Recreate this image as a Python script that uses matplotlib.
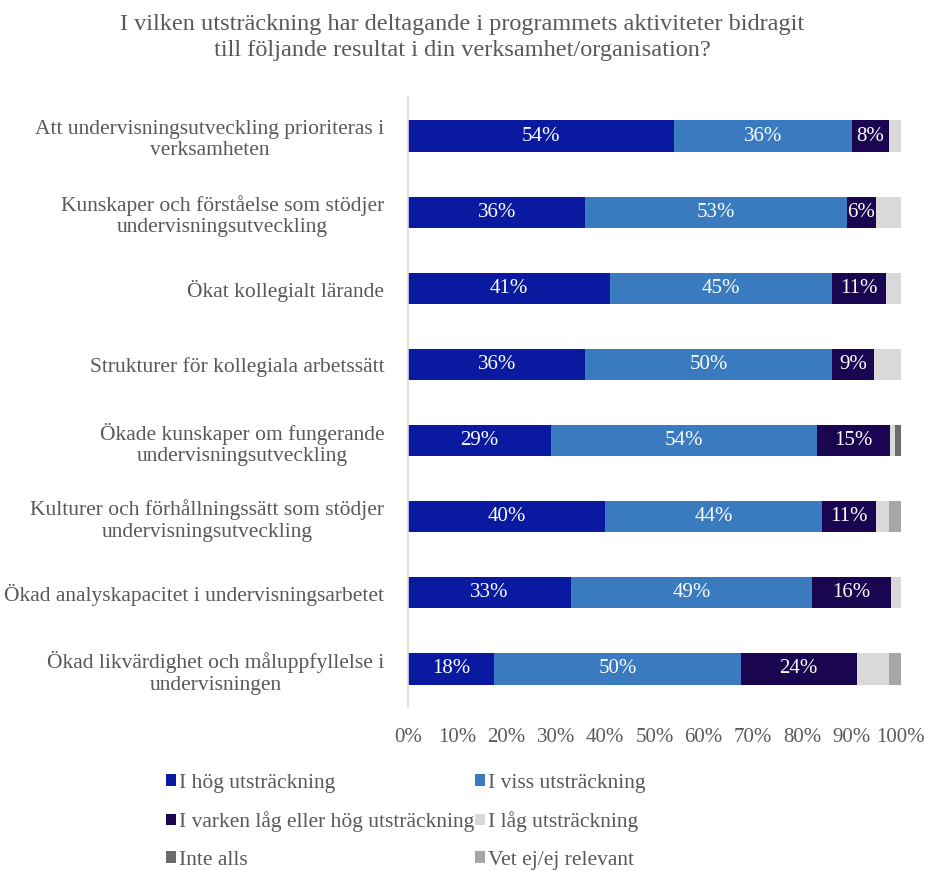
import matplotlib.pyplot as plt
import matplotlib.ticker as ticker
import numpy as np

# ── data ─────────────────────────────────────────────────────────────
kategorier = [
    'Att undervisningsutveckling prioriteras i\nverksamheten',
    'Kunskaper och förståelse som stödjer\nundervisningsutveckling',
    'Ökat kollegialt lärande',
    'Strukturer för kollegiala arbetssätt',
    'Ökade kunskaper om fungerande\nundervisningsutveckling',
    'Kulturer och förhållningssätt som stödjer\nundervisningsutveckling',
    'Ökad analyskapacitet i undervisningsarbetet',
    'Ökad likvärdighet och måluppfyllelse i\nundervisningen',
]
serier = ['I hög utsträckning', 'I viss utsträckning',
          'I varken låg eller hög utsträckning', 'I låg utsträckning',
          'Inte alls', 'Vet ej/ej relevant']

hog = [54, 36, 41, 36, 29, 40, 33, 17.5]
viss = [36, 53, 45, 50, 54, 44, 49, 50]
varken = [7.6, 6, 11, 8.6, 14.8, 11, 16, 23.5]
lag = [2.4, 5, 3, 5.4, 1.0, 2.5, 2, 6.5]
inte = [0, 0, 0, 0, 1.2, 0, 0, 0]
vetej = [0, 0, 0, 0, 0, 2.5, 0, 2.5]

farger = ['#0A1AA0', '#3A7BC0', '#1A0550', '#D9D9D9', '#6B6B6B', '#A6A6A6']
textfarg = '#595959'

plt.rcParams['font.family'] = ['Liberation Serif', 'DejaVu Serif']

fig = plt.figure(figsize=(9.25, 8.71), dpi=100)
ax = fig.add_axes([0.441, 0.1883, 0.533, 0.6992])

y = np.arange(len(kategorier))
vanster = np.zeros(len(kategorier))
handtag = []
for i, (namn, vals) in enumerate(zip(serier, [hog, viss, varken, lag, inte, vetej])):
    vals = np.array(vals, dtype=float)
    b = ax.barh(y, vals, left=vanster, height=0.41, color=farger[i],
                edgecolor='none', label=namn)
    handtag.append(b)
    if i < 3:
        for yy, v, l in zip(y, vals, vanster):
            if v > 0:
                ax.text(l + v / 2, yy, f'{v:.0f}%', ha='center', va='center',
                        color='white', fontsize=15)
    vanster += vals

ax.set_ylim(len(kategorier) - 0.5, -0.5)
ax.set_xlim(0, 100)
ax.set_yticks(y)
ax.set_yticklabels(kategorier, fontsize=15.5, color=textfarg, multialignment='center')
ax.xaxis.set_major_locator(ticker.MultipleLocator(10))
ax.xaxis.set_major_formatter(ticker.FuncFormatter(lambda v, p: f'{v:.0f}%'))
ax.tick_params(axis='x', length=0, labelsize=15, labelcolor=textfarg, pad=15)
ax.tick_params(axis='y', length=0, pad=17)
for s in ['top', 'right', 'bottom']:
    ax.spines[s].set_visible(False)
ax.spines['left'].set_color('#D9D9D9')
ax.spines['left'].set_linewidth(1.2)

fig.suptitle('I vilken utsträckning har deltagande i programmets aktiviteter bidragit\n'
             'till följande resultat i din verksamhet/organisation?',
             fontsize=17.5, color=textfarg, y=0.984, linespacing=1.3)

# legend: rader = (hög, viss), (varken, låg), (inte, vet ej)
ordning = [0, 2, 4, 1, 3, 5]
leg = fig.legend([handtag[k] for k in ordning], [serier[k] for k in ordning],
                 ncol=2, loc='upper left', bbox_to_anchor=(0.17, 0.1217),
                 frameon=False, fontsize=15.5, handlelength=0.45, handleheight=0.45,
                 handletextpad=0.15, labelspacing=0.86, columnspacing=0.05,
                 borderaxespad=0)
for t in leg.get_texts():
    t.set_color(textfarg)

plt.savefig('out.png', dpi=100)
